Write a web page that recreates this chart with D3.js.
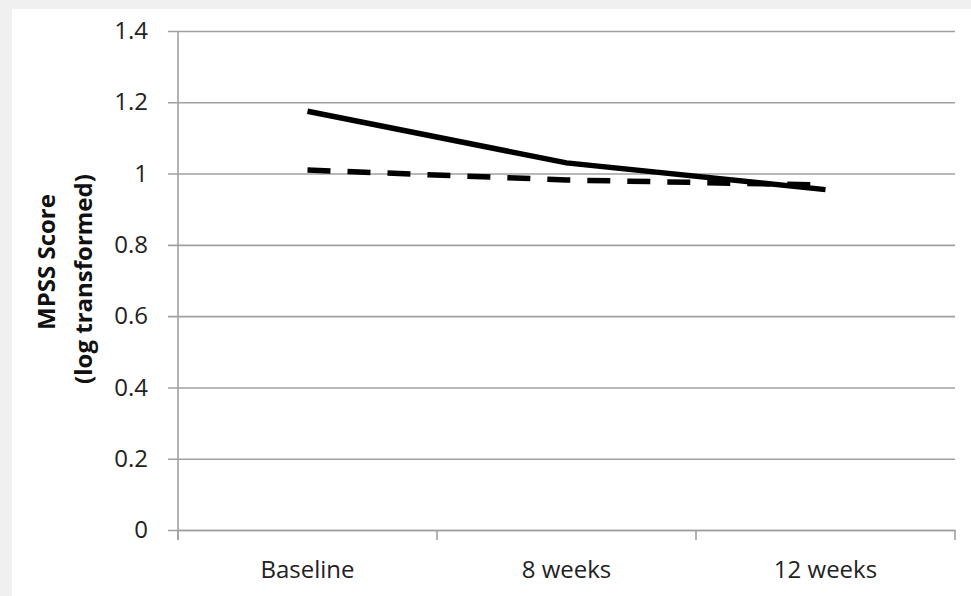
<!DOCTYPE html>
<html><head><meta charset="utf-8">
<script src="https://cdn.jsdelivr.net/npm/d3@7"></script>
<style>
html,body{margin:0;padding:0;background:#f0f0f0;}
svg{display:block;}
</style></head>
<body>
<script>
const categories = ["Baseline", "8 weeks", "12 weeks"];
const solidSeries = [1.175, 1.03, 0.955];
const dashedSeries = [1.01, 0.982, 0.968];
const yTicks = [0, 0.2, 0.4, 0.6, 0.8, 1, 1.2, 1.4];
const yLabelLines = ["MPSS Score", "(log transformed)"];

(function () {
const W = 971, H = 596;
const svg = d3.select("body").append("svg").attr("width", W).attr("height", H);
svg.append("rect").attr("x", 0).attr("y", 0).attr("width", W).attr("height", H).attr("fill", "#f0f0f0");
svg.append("rect").attr("x", 12).attr("y", 9).attr("width", W - 12).attr("height", H - 9).attr("fill", "#ffffff");

const pL = 178, pR = 955, pT = 31, pB = 530;
const x = d3.scaleBand().domain(categories).range([pL, pR]).padding(0);
const y = d3.scaleLinear().domain([0, 1.4]).range([pB, pT]);
const font = "'Open Sans', 'Liberation Sans', sans-serif";
const fs = 24;
const gridColor = "#a0a0a0";

const yAxis = d3.axisLeft(y).tickValues(yTicks).tickSize(-(pR - pL)).tickPadding(0)
  .tickFormat(d => String(+d.toFixed(1)));
const gy = svg.append("g").attr("transform", `translate(${pL},0)`).call(yAxis);
gy.select(".domain").remove();
gy.selectAll(".tick line").attr("stroke", gridColor).attr("stroke-width", 1.6).attr("x1", -10);
gy.selectAll(".tick text").attr("x", -30).attr("font-family", font).attr("font-size", fs).attr("fill", "#222");

svg.append("line").attr("x1", pL).attr("x2", pL).attr("y1", pT).attr("y2", pB + 10)
  .attr("stroke", gridColor).attr("stroke-width", 1.6);

const xEdges = d3.scaleLinear().domain([0, categories.length]).range([pL, pR]);
const gx = svg.append("g").attr("transform", `translate(0,${pB})`)
  .call(d3.axisBottom(x).tickSize(0).tickPadding(31));
gx.select(".domain").attr("stroke", gridColor).attr("stroke-width", 1.6);
gx.selectAll(".tick text").attr("font-family", font).attr("font-size", fs).attr("fill", "#222");
gx.selectAll(".edge").data(d3.range(categories.length + 1)).enter().append("line")
  .attr("x1", i => xEdges(i)).attr("x2", i => xEdges(i)).attr("y1", 0).attr("y2", 10)
  .attr("stroke", gridColor).attr("stroke-width", 1.6);

const labelPos = [[55, 262], [92, 279]];
svg.selectAll(".ylab").data(yLabelLines).enter().append("text")
  .attr("transform", (d, i) => `translate(${labelPos[i][0]},${labelPos[i][1]}) rotate(-90)`)
  .attr("text-anchor", "middle").attr("font-family", font).attr("font-size", fs)
  .attr("font-weight", "bold").attr("fill", "#111").text(d => d);

const line = d3.line().x((d, i) => x(categories[i]) + x.bandwidth() / 2).y(d => y(d));
svg.append("path").datum(dashedSeries).attr("d", line).attr("fill", "none")
  .attr("stroke", "#000").attr("stroke-width", 5.5).attr("stroke-dasharray", "23,17");
svg.append("path").datum(solidSeries).attr("d", line).attr("fill", "none")
  .attr("stroke", "#000").attr("stroke-width", 5.5);
})();
</script>
</body></html>
